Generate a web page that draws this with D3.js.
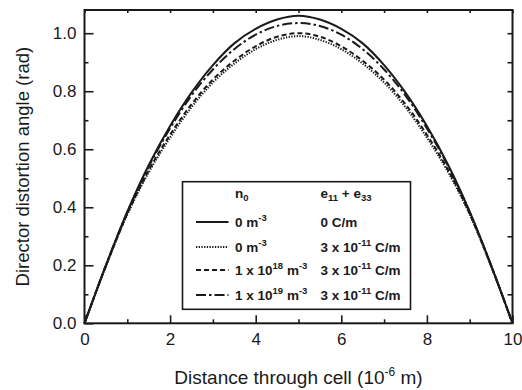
<!DOCTYPE html>
<html>
<head>
<meta charset="utf-8">
<script src="https://cdn.jsdelivr.net/npm/d3@7"></script>
<style>
  body { margin: 0; background: #fff; }
  svg { font-family: "Liberation Sans", Arial, sans-serif; }
  .tick text { font-size: 17px; fill: #1a1a1a; }
  .tick line { stroke: #1a1a1a; stroke-width: 1.6px; }
  .curve { fill: none; stroke: #1a1a1a; stroke-width: 2px; }
  .leg text { font-size: 13.5px; font-weight: bold; fill: #1a1a1a; }
</style>
</head>
<body>
<div id="chart"></div>
<script>
const w = 522; //Width
const h = 390; //Height
const margin = {left: 84.5, right: 9.5, top: 10, bottom: 66.7};

// distance through cell (10^-6 m)
const distance = [0, 0.5, 1, 1.5, 2, 2.5, 3, 3.5, 4, 4.5, 5, 5.5, 6, 6.5, 7, 7.5, 8, 8.5, 9, 9.5, 10];

// director distortion angle (rad), one array per curve
const angleSolid   = [0, 0.20, 0.385, 0.545, 0.68, 0.795, 0.89, 0.965, 1.015, 1.047, 1.06, 1.047, 1.015, 0.965, 0.89, 0.795, 0.68, 0.545, 0.385, 0.20, 0];
const angleDotted  = [0, 0.197, 0.375, 0.52, 0.64, 0.745, 0.83, 0.895, 0.945, 0.977, 0.99, 0.977, 0.945, 0.895, 0.83, 0.745, 0.64, 0.52, 0.375, 0.197, 0];
const angleDashed  = [0, 0.198, 0.378, 0.527, 0.65, 0.755, 0.84, 0.905, 0.955, 0.988, 1.0, 0.988, 0.955, 0.905, 0.84, 0.755, 0.65, 0.527, 0.378, 0.198, 0];
const angleDashDot = [0, 0.20, 0.383, 0.54, 0.672, 0.785, 0.875, 0.945, 0.995, 1.025, 1.035, 1.025, 0.995, 0.945, 0.875, 0.785, 0.672, 0.54, 0.383, 0.20, 0];

// legend texts: [text, "sup"|"sub"|""]
const legendHeader = [[["n", ""], ["0", "sub"]], [["e", ""], ["11", "sub"], [" + e", ""], ["33", "sub"]]];
const legendN0 = [
  [["0 m", ""], ["-3", "sup"]],
  [["0 m", ""], ["-3", "sup"]],
  [["1 x 10", ""], ["18", "sup"], [" m", ""], ["-3", "sup"]],
  [["1 x 10", ""], ["19", "sup"], [" m", ""], ["-3", "sup"]]
];
const legendE = [
  [["0 C/m", ""]],
  [["3 x 10", ""], ["-11", "sup"], [" C/m", ""]],
  [["3 x 10", ""], ["-11", "sup"], [" C/m", ""]],
  [["3 x 10", ""], ["-11", "sup"], [" C/m", ""]]
];

const series = [
  {values: angleSolid, dash: null},
  {values: angleDotted, dash: "1.3,1.4"},
  {values: angleDashed, dash: "5,3"},
  {values: angleDashDot, dash: "10,3,2.5,3"}
];

const xScale = d3.scaleLinear()
                 .domain([0, 10])
                 .range([margin.left, w - margin.right]);

const yScale = d3.scaleLinear()
                 .domain([0, 1.08])
                 .range([h - margin.bottom, margin.top]);

const svg = d3.select("#chart")
              .append("svg")
              .attr("width", w)
              .attr("height", h);

//Minor ticks first, no labels
svg.append("g")
  .attr("transform", "translate(0," + (h - margin.bottom) + ")")
  .call(d3.axisBottom(xScale).tickValues([1, 3, 5, 7, 9]).tickSize(-4).tickFormat(""))
  .call(g => g.select(".domain").remove());

svg.append("g")
  .attr("transform", "translate(" + margin.left + ",0)")
  .call(d3.axisLeft(yScale).tickValues([0.1, 0.3, 0.5, 0.7, 0.9]).tickSize(-4).tickFormat(""))
  .call(g => g.select(".domain").remove());

//X axis
svg.append("g")
  .attr("transform", "translate(0," + (h - margin.bottom) + ")")
  .call(d3.axisBottom(xScale).tickValues([0, 2, 4, 6, 8, 10]).tickSize(-8).tickPadding(10).tickFormat(d3.format("d")))
  .call(g => g.select(".domain").remove());

//Y axis
svg.append("g")
  .attr("transform", "translate(" + margin.left + ",0)")
  .call(d3.axisLeft(yScale).tickValues([0, 0.2, 0.4, 0.6, 0.8, 1.0]).tickSize(-9).tickPadding(8).tickFormat(d3.format(".1f")))
  .call(g => g.select(".domain").remove());

//Top and right ticks
svg.append("g")
  .attr("transform", "translate(0," + margin.top + ")")
  .call(d3.axisTop(xScale).ticks(10).tickSize(-3).tickFormat(""))
  .call(g => g.select(".domain").remove());

svg.append("g")
  .attr("transform", "translate(" + (w - margin.right) + ",0)")
  .call(d3.axisRight(yScale).tickValues(d3.range(1, 11).map(d => d / 10)).tickSize(-5).tickFormat(""))
  .call(g => g.select(".domain").remove());

//Curves
const line = d3.line()
               .x((d, i) => xScale(distance[i]))
               .y(d => yScale(d))
               .curve(d3.curveCatmullRom);

svg.selectAll(".curve")
  .data(series)
  .enter()
  .append("path")
  .attr("class", "curve")
  .attr("d", d => line(d.values))
  .attr("stroke-dasharray", d => d.dash);

//Frame
svg.append("rect")
  .attr("x", xScale(0))
  .attr("y", yScale(1.08))
  .attr("width", xScale(10) - xScale(0))
  .attr("height", yScale(0) - yScale(1.08))
  .attr("fill", "none")
  .attr("stroke", "#1a1a1a")
  .attr("stroke-width", 2);

//Axis titles
const xTitle = svg.append("text")
  .attr("x", (xScale(0) + xScale(10)) / 2)
  .attr("y", 383.5)
  .attr("text-anchor", "middle")
  .attr("font-size", 19)
  .attr("fill", "#1a1a1a");
xTitle.append("tspan").text("Distance through cell (10");
xTitle.append("tspan").attr("dy", -8).attr("font-size", 12).text("-6");
xTitle.append("tspan").attr("dy", 8).text(" m)");

svg.append("text")
  .attr("transform", "translate(29," + ((yScale(0) + yScale(1.08)) / 2) + ") rotate(-90)")
  .attr("text-anchor", "middle")
  .attr("font-size", 18.5)
  .attr("fill", "#1a1a1a")
  .text("Director distortion angle (rad)");

//Legend
const leg = svg.append("g").attr("class", "leg");
leg.append("rect")
  .attr("x", 182.5)
  .attr("y", 181.7)
  .attr("width", 228)
  .attr("height", 127.6)
  .attr("fill", "#fff")
  .attr("stroke", "#1a1a1a")
  .attr("stroke-width", 1.6);

const writeRich = (sel, parts) => {
  let shift = 0;
  parts.forEach(p => {
    const target = p[1] === "sup" ? -6 : p[1] === "sub" ? 3.5 : 0;
    sel.append("tspan")
      .attr("dy", target - shift)
      .attr("font-size", p[1] ? 9.5 : null)
      .text(p[0]);
    shift = target;
  });
};

const headerY = 197.5;
writeRich(leg.append("text").attr("x", 235).attr("y", headerY), legendHeader[0]);
writeRich(leg.append("text").attr("x", 320.5).attr("y", headerY), legendHeader[1]);

const rowY = [226.5, 251.5, 274.5, 299.5];
series.forEach((s, i) => {
  leg.append("line")
    .attr("x1", 196)
    .attr("x2", 228.5)
    .attr("y1", rowY[i] - 4.5)
    .attr("y2", rowY[i] - 4.5)
    .attr("stroke", "#1a1a1a")
    .attr("stroke-width", 2.2)
    .attr("stroke-dasharray", s.dash);
  writeRich(leg.append("text").attr("x", 235).attr("y", rowY[i]), legendN0[i]);
  writeRich(leg.append("text").attr("x", 320.5).attr("y", rowY[i]), legendE[i]);
});
</script>
</body>
</html>
